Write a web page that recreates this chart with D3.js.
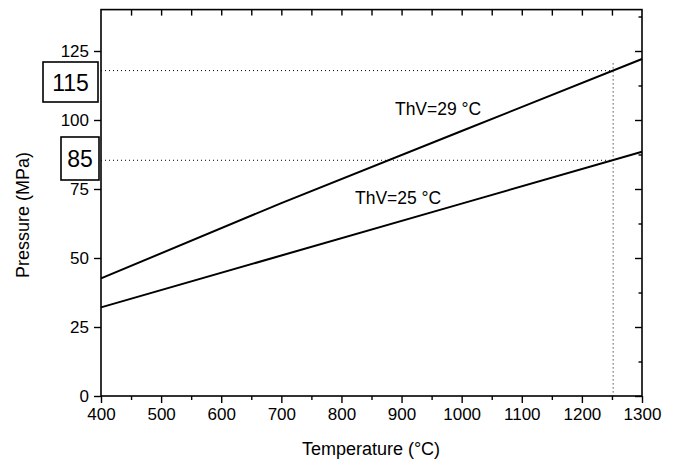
<!DOCTYPE html>
<html>
<head>
<meta charset="utf-8">
<script src="https://cdn.jsdelivr.net/npm/d3@7"></script>
<style>
  body { margin: 0; background: #fff; }
  text { font-family: "Liberation Sans", Arial, Helvetica, sans-serif; fill: #000; }
</style>
</head>
<body>
<svg id="scene" width="678" height="459"></svg>
<script>
// data
const temps = [400, 700, 1000, 1300];
const thv29 = [42.6, 69.9, 96.0, 122.1];
const thv25 = [32.1, 50.9, 69.7, 88.5];
const xTicks = [400, 500, 600, 700, 800, 900, 1000, 1100, 1200, 1300];
const yTicks = [0, 25, 50, 75, 100, 125];
const markT = 1252;
const markP = [117.9, 85.4];
const markLabels = ['115', '85'];

const svg = d3.select('#scene');
let x = d3.scaleLinear().domain([400, 1300]).range([101, 642]);
let y = d3.scaleLinear().domain([0, 140]).range([396, 9.6]);

// frame axes
let bottom = svg.append('g').attr('transform', 'translate(0,396)')
  .call(d3.axisBottom(x).tickValues(xTicks).tickSize(7).tickPadding(5).tickFormat(d3.format('d')));
svg.append('g').attr('transform', 'translate(0,396)')
  .call(d3.axisBottom(x).tickValues(d3.range(450, 1300, 100)).tickSize(4).tickFormat(''));
svg.append('g').attr('transform', 'translate(0,9.6)')
  .call(d3.axisBottom(x).tickValues(d3.range(450, 1300, 50)).tickSize(6).tickFormat(''));
let left = svg.append('g').attr('transform', 'translate(101,0)')
  .call(d3.axisLeft(y).tickValues(yTicks).tickSize(7).tickPadding(5));
svg.append('g').attr('transform', 'translate(642,0)')
  .call(d3.axisLeft(y).tickValues(yTicks).tickSize(7).tickFormat(''));
svg.append('g').attr('transform', 'translate(642,0)')
  .call(d3.axisLeft(y).tickValues(d3.range(12.5, 140, 25)).tickSize(3.5).tickFormat(''));

svg.selectAll('.domain').remove();
svg.selectAll('.tick line').attr('stroke', '#000').attr('stroke-width', 1.4);
svg.selectAll('.tick text').style('font-size', '17px').attr('font-family', null);

svg.append('rect')
  .attr('x', x(400)).attr('y', y(140))
  .attr('width', x(1300) - x(400)).attr('height', y(0) - y(140))
  .attr('fill', 'none').attr('stroke', '#000').attr('stroke-width', 1.6);

// dotted guides
markP.forEach(function (p) {
  svg.append('line')
    .attr('x1', x(400)).attr('x2', x(markT))
    .attr('y1', y(p)).attr('y2', y(p))
    .attr('stroke', '#000').attr('stroke-width', 1).attr('stroke-dasharray', '1,3');
});
svg.append('line')
  .attr('x1', x(markT)).attr('x2', x(markT))
  .attr('y1', y(120.5)).attr('y2', y(0))
  .attr('stroke', '#000').attr('stroke-width', 1).attr('stroke-dasharray', '1,3');

// curves
let line = d3.line().x((d) => x(d[0])).y((d) => y(d[1]));
[thv29, thv25].forEach(function (s) {
  svg.append('path')
    .datum(temps.map((t, i) => [t, s[i]]))
    .attr('d', line)
    .attr('fill', 'none').attr('stroke', '#000').attr('stroke-width', 2);
});

svg.append('text').attr('x', x(889)).attr('y', y(101.8))
  .style('font-size', '17.5px').text('ThV=29 °C');
svg.append('text').attr('x', x(822.5)).attr('y', y(69.6))
  .style('font-size', '17.5px').text('ThV=25 °C');

// boxed values on the left
let boxes = [
  { cx: 70.5, cy: 82, w: 55, h: 40 },
  { cx: 80, cy: 158.5, w: 38, h: 43 }
];
boxes.forEach(function (b, i) {
  svg.append('rect')
    .attr('x', b.cx - b.w / 2).attr('y', b.cy - b.h / 2)
    .attr('width', b.w).attr('height', b.h)
    .attr('fill', '#fff').attr('stroke', '#000').attr('stroke-width', 1.6);
  svg.append('text').attr('x', b.cx).attr('y', b.cy + 8.5)
    .attr('text-anchor', 'middle').style('font-size', '23px').text(markLabels[i]);
});

// axis titles
svg.append('text').attr('x', 371).attr('y', 455)
  .attr('text-anchor', 'middle').style('font-size', '18px').text('Temperature (°C)');
svg.append('text').attr('transform', 'translate(29,215) rotate(-90)')
  .attr('text-anchor', 'middle').style('font-size', '18px').text('Pressure (MPa)');
</script>
</body>
</html>
